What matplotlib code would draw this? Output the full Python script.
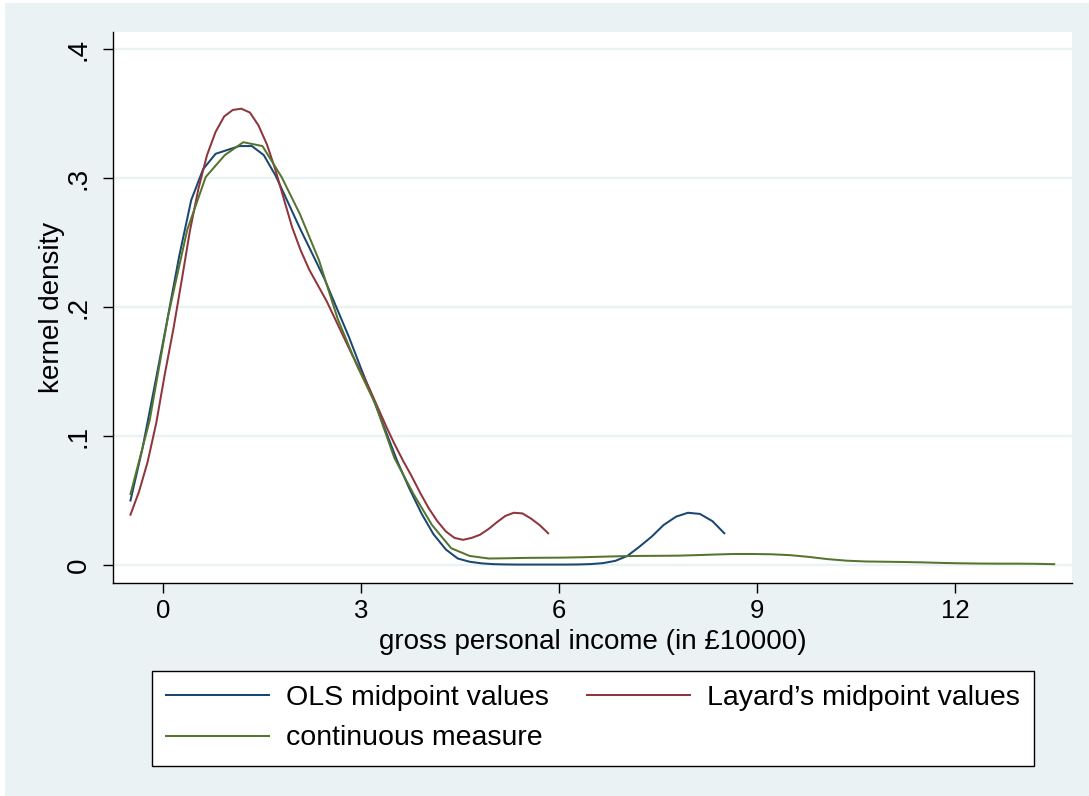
import numpy as np
import matplotlib
matplotlib.use("Agg")
import matplotlib.pyplot as plt
from matplotlib.patches import Rectangle

plt.rcParams['font.family'] = ['Liberation Sans', 'DejaVu Sans']

# Kernel density curves
ols_x = [-0.50, -0.32, -0.13, 0.05, 0.24, 0.42, 0.60, 0.79, 0.97, 1.15,
         1.34, 1.52, 1.70, 1.89, 2.07, 2.26, 2.44, 2.62, 2.81, 2.99,
         3.17, 3.36, 3.54, 3.72, 3.91, 4.09, 4.28, 4.46, 4.64, 4.83,
         5.01, 5.19, 5.38, 5.56, 5.74, 5.93, 6.11, 6.30, 6.48, 6.66,
         6.85, 7.03, 7.21, 7.40, 7.58, 7.77, 7.95, 8.13, 8.32, 8.50]
ols_y = [0.050, 0.090, 0.140, 0.188, 0.240, 0.283, 0.307, 0.319, 0.322, 0.325,
         0.325, 0.318, 0.302, 0.281, 0.261, 0.241, 0.222, 0.200, 0.177, 0.153,
         0.130, 0.105, 0.081, 0.060, 0.040, 0.024, 0.012, 0.005, 0.0025, 0.0012,
         0.0006, 0.0004, 0.0003, 0.0003, 0.0003, 0.0003, 0.0003, 0.0004, 0.0007, 0.0014,
         0.0032, 0.0070, 0.0140, 0.0220, 0.0310, 0.0375, 0.0405, 0.0396, 0.0340, 0.0246]

layard_x = [-0.50, -0.37, -0.24, -0.11, 0.02, 0.15, 0.28, 0.40, 0.53, 0.66,
            0.79, 0.92, 1.05, 1.18, 1.31, 1.44, 1.57, 1.70, 1.83, 1.95,
            2.08, 2.21, 2.34, 2.47, 2.60, 2.73, 2.86, 2.99, 3.12, 3.25,
            3.38, 3.50, 3.63, 3.76, 3.89, 4.02, 4.15, 4.28, 4.41, 4.54,
            4.67, 4.80, 4.93, 5.05, 5.18, 5.31, 5.44, 5.57, 5.70, 5.83]
layard_y = [0.039, 0.057, 0.080, 0.110, 0.148, 0.183, 0.222, 0.259, 0.292, 0.318,
            0.336, 0.348, 0.353, 0.354, 0.351, 0.341, 0.326, 0.306, 0.283, 0.262,
            0.244, 0.229, 0.217, 0.205, 0.191, 0.177, 0.163, 0.150, 0.137, 0.122,
            0.107, 0.094, 0.081, 0.069, 0.056, 0.044, 0.034, 0.026, 0.021, 0.0195,
            0.021, 0.0235, 0.028, 0.033, 0.038, 0.0405, 0.040, 0.036, 0.031, 0.0246]

cont_x = [-0.50, -0.21, 0.07, 0.36, 0.64, 0.93, 1.21, 1.50, 1.79, 2.07,
          2.36, 2.64, 2.93, 3.21, 3.50, 3.79, 4.07, 4.36, 4.64, 4.93,
          5.21, 5.50, 5.79, 6.07, 6.36, 6.64, 6.93, 7.21, 7.50, 7.79,
          8.07, 8.36, 8.64, 8.93, 9.21, 9.50, 9.79, 10.07, 10.36, 10.64,
          10.93, 11.21, 11.50, 11.79, 12.07, 12.36, 12.64, 12.93, 13.21, 13.50]
cont_y = [0.055, 0.112, 0.193, 0.260, 0.301, 0.318, 0.328, 0.325, 0.301, 0.272,
          0.236, 0.191, 0.155, 0.125, 0.083, 0.055, 0.031, 0.013, 0.007, 0.005,
          0.0052, 0.0055, 0.0056, 0.0057, 0.0060, 0.0064, 0.0068, 0.0070, 0.0071, 0.0072,
          0.0076, 0.0081, 0.0085, 0.0085, 0.0083, 0.0076, 0.0062, 0.0045, 0.0033, 0.0027,
          0.0025, 0.0023, 0.0020, 0.0016, 0.0013, 0.0011, 0.0010, 0.0010, 0.0009, 0.0006]

x_ticks = [0, 3, 6, 9, 12]
y_ticks = [0, 0.1, 0.2, 0.3, 0.4]
y_tick_labels = ["0", ".1", ".2", ".3", ".4"]

bg = "#EAF2F3"
navy = "#1A476F"
maroon = "#90353B"
green = "#55752F"

W, H = 1089, 796
fig = plt.figure(figsize=(W / 100, H / 100), dpi=100, facecolor="white")
fig.patches.append(Rectangle((5 / W, 0), 1, 1 - 3 / H, transform=fig.transFigure,
                             facecolor=bg, edgecolor="none", zorder=-10))

ax = fig.add_axes([113 / W, 1 - 583 / H, (1072 - 113) / W, (583 - 32) / H])
ax.set_facecolor("white")

for yv in y_ticks:
    ax.axhline(yv, color=bg, lw=1.7, zorder=0)

l_ols, = ax.plot(ols_x, ols_y, color=navy, lw=1.45)
l_lay, = ax.plot(layard_x, layard_y, color=maroon, lw=1.45)
l_cont, = ax.plot(cont_x, cont_y, color=green, lw=1.45)

ax.set_xlim(-0.765, 13.77)
ax.set_ylim(-0.014, 0.4135)

ax.set_xticks(x_ticks)
ax.set_xticklabels([str(t) for t in x_ticks])
ax.set_yticks(y_ticks)
ax.set_yticklabels(y_tick_labels, rotation=90, va="center")
ax.tick_params(axis="both", direction="out", length=7.5, width=1.0, colors="black")
ax.tick_params(axis="x", pad=4, labelsize=18.5)
ax.tick_params(axis="y", pad=8, labelsize=20)

for s in ["top", "right"]:
    ax.spines[s].set_visible(False)
for s in ["left", "bottom"]:
    ax.spines[s].set_linewidth(1.0)

ax.set_xlabel("gross personal income (in \u00a310000)", fontsize=20, labelpad=4)
ax.set_ylabel("kernel density", fontsize=20, labelpad=0.5)

# column-major fill: col 1 = OLS, continuous; col 2 = Layard
leg = fig.legend([l_ols, l_cont, l_lay],
                 ["OLS midpoint values", "continuous measure", "Layard\u2019s midpoint values"],
                 ncol=2, mode="expand",
                 bbox_to_anchor=(152 / W, 0, (1034 - 152) / W, 1 - 671 / H),
                 loc="upper left", fontsize=20.5, frameon=True, fancybox=False,
                 edgecolor="black", facecolor="white", framealpha=1,
                 handlelength=3.6, handletextpad=0.6, labelspacing=0.5,
                 borderpad=0.5, borderaxespad=0)
leg.get_frame().set_linewidth(1.0)

fig.savefig("out.png", dpi=100, facecolor=fig.get_facecolor())
